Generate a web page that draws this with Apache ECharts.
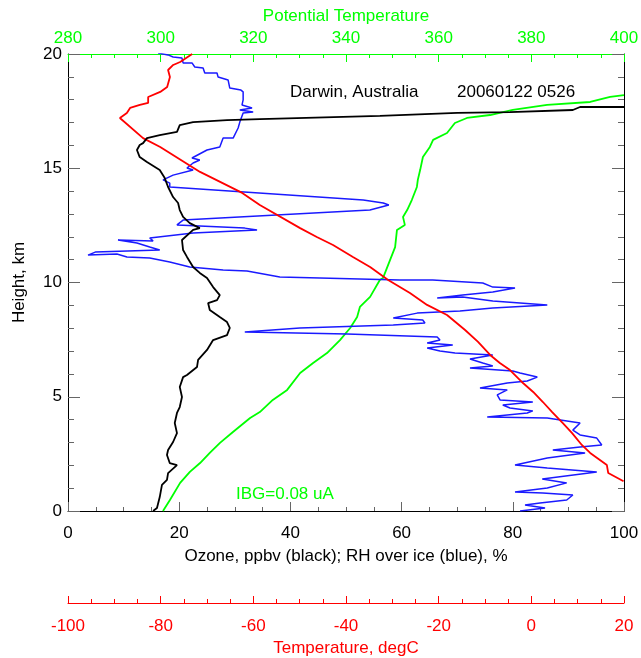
<!DOCTYPE html>
<html>
<head>
<meta charset="utf-8">
<script src="https://cdn.jsdelivr.net/npm/echarts@6/dist/echarts.min.js"></script>
<style>
  html, body { margin: 0; padding: 0; background: #fff; }
  #main { width: 641px; height: 658px; }
</style>
</head>
<body>
<div id="main"></div>
<script>
// tick labels
const ozoneTicks = [0, 20, 40, 60, 80, 100];
const thetaTicks = [280, 300, 320, 340, 360, 380, 400];
const tempTicks = [-100, -80, -60, -40, -20, 0, 20];
const heightTicks = [0, 5, 10, 15, 20];

// ozone, ppbv vs height km
const ozone = [
  [15.3,0],[16.0,0.13],[16.5,0.61],[16.9,1.14],[17.8,1.36],[18.0,1.66],[19.6,2.01],[18.3,2.10],
  [17.8,2.45],[18.0,2.67],[18.9,3.02],[19.6,3.41],[19.2,3.85],[19.6,4.29],[20.1,4.55],[20.5,4.99],
  [20.1,5.43],[20.7,5.86],[21.4,5.95],[23.2,6.30],[23.4,6.61],[25.0,7.05],[26.1,7.48],[28.6,7.70],
  [29.1,8.01],[28.6,8.27],[27.3,8.49],[25.5,8.80],[25.2,9.10],[26.8,9.23],[27.3,9.45],[26.1,9.80],
  [25.0,10.20],[23.7,10.42],[22.5,10.68],[21.4,11.12],[20.7,11.42],[20.5,11.86],[22.5,12.30],[23.7,12.38],
  [21.9,12.60],[20.7,12.87],[20.1,13.17],[19.8,13.48],[18.9,13.74],[18.0,14.18],[17.4,14.57],[16.5,14.92],
  [14.2,15.27],[12.9,15.49],[12.4,15.80],[12.9,16.02],[13.5,16.10],[14.2,16.32],[16.5,16.45],[19.6,16.59],
  [20.1,16.89],[22.5,17.02],[28.6,17.11],[34.5,17.15],[56.1,17.29],[70.0,17.42],[79.5,17.46],[90.8,17.55],
  [92.1,17.68],[100,17.68]
];

// RH over ice, % vs height km
const rhIce = [
  [81.3,0],[85.8,0.13],[82.2,0.26],[84.9,0.35],[89.7,0.48],[90.8,0.70],[85.4,0.79],[80.4,0.83],
  [86.2,1.01],[89.7,1.23],[85.3,1.40],[95.1,1.71],[86.2,1.88],[80.4,2.01],[86.2,2.32],[93.0,2.54],
  [87.2,2.67],[92.1,2.80],[96.0,2.89],[95.1,3.19],[92.1,3.33],[90.8,3.54],[92.1,3.85],[86.2,4.07],
  [75.4,4.11],[82.6,4.29],[83.6,4.38],[79.5,4.51],[78.2,4.64],[83.6,4.77],[77.7,4.86],[77.2,5.08],
  [79.0,5.30],[74.1,5.38],[79.0,5.60],[82.6,5.69],[84.4,5.86],[81.3,6.04],[80.0,6.13],[72.3,6.26],
  [76.4,6.35],[74.6,6.48],[72.3,6.65],[76.4,6.83],[69.6,6.91],[66.9,7.00],[64.6,7.13],[69.2,7.26],
  [64.6,7.35],[66.9,7.48],[66.4,7.61],[50.2,7.75],[31.8,7.83],[41.7,8.01],[58.5,8.14],[64.2,8.23],
  [63.8,8.36],[58.5,8.45],[62.8,8.66],[70.5,8.75],[76.4,8.88],[86.2,9.01],[76.4,9.19],[71.0,9.37],
  [66.4,9.32],[71.0,9.45],[76.4,9.58],[80.4,9.76],[76.4,9.80],[74.6,9.98],[65.6,10.11],[59.7,10.11],
  [38.1,10.24],[32.2,10.50],[27.9,10.55],[21.9,10.68],[18.3,10.90],[14.7,11.07],[10.6,11.12],[8.8,11.25],
  [3.6,11.20],[4.9,11.33],[16.5,11.42],[14.7,11.55],[12.4,11.73],[9.0,11.86],[15.3,11.82],[14.7,11.95],
  [22.5,12.17],[34.0,12.30],[31.8,12.38],[19.6,12.52],[20.7,12.73],[54.3,13.17],[57.7,13.39],[56.7,13.48],
  [53.1,13.61],[18.3,14.18],[18.3,14.35],[17.1,14.49],[18.9,14.70],[22.5,14.92],[21.4,15.01],[22.5,15.23],
  [23.7,15.36],[22.3,15.45],[25.0,15.80],[27.3,15.93],[27.9,16.32],[29.7,16.32],[30.6,16.76],[30.9,17.02],
  [31.5,17.42],[33.3,17.46],[30.9,17.55],[33.1,17.64],[31.3,17.77],[31.5,17.99],[31.5,18.34],[31.1,18.42],
  [29.1,18.51],[28.8,18.86],[27.0,18.99],[26.8,19.17],[24.6,19.17],[24.3,19.39],[22.8,19.43],[22.3,19.61],
  [20.7,19.61],[20.5,19.82],[18.9,19.87],[18.0,19.96],[16.2,20.04]
];

// temperature, degC vs height km
const temperature = [
  [19.9,1.30],[16.6,1.66],[16.3,2.01],[14.2,2.32],[12.7,2.54],[10.9,2.89],[8.8,3.41],[6.8,3.85],
  [4.5,4.33],[2.5,4.77],[0.4,5.21],[-1.8,5.60],[-4.6,6.17],[-6.8,6.48],[-8.9,6.83],[-11.5,7.40],
  [-14.3,7.92],[-18.2,8.58],[-22.5,9.02],[-26.2,9.54],[-30.9,10.11],[-34.8,10.68],[-38.5,11.12],
  [-42.8,11.64],[-46.3,11.99],[-49.9,12.38],[-58.6,13.39],[-62.4,13.92],[-71.5,14.84],[-80.1,15.93],
  [-83.8,16.32],[-88.8,17.20],[-87.3,17.42],[-86.6,17.64],[-84.5,17.77],[-82.7,17.86],[-82.7,18.12],
  [-80.1,18.34],[-78.6,18.56],[-78.0,18.99],[-78.4,19.30],[-77.3,19.52],[-75.8,19.65],[-73.2,20.0]
];

// potential temperature, K vs height km
const theta = [
  [300.5,0],[302.0,0.48],[304.2,1.23],[306.3,1.71],[308.5,2.10],[310.6,2.54],[312.8,2.98],[315.6,3.46],
  [319.3,4.07],[321.4,4.33],[324.2,4.86],[327.3,5.30],[330.1,6.04],[332.9,6.48],[335.9,6.91],[338.7,7.48],
  [340.9,8.01],[342.4,8.49],[343.0,8.93],[345.2,9.37],[347.3,10.11],[348.0,10.20],[349.5,10.98],
  [350.6,11.55],[351.0,12.30],[352.7,12.52],[352.3,12.87],[353.2,13.17],[354.2,13.61],[355.3,14.18],
  [355.5,14.49],[356.0,14.92],[356.6,15.49],[358.1,15.93],[358.8,16.24],[361.8,16.54],[363.5,16.98],
  [366.1,17.20],[371.1,17.33],[376.0,17.55],[383.4,17.77],[392.7,17.90],[397.0,18.12],[400,18.20]
];

const chart = echarts.init(document.getElementById('main'));
const font = 'Liberation Sans, Arial, sans-serif';
const fs = 17;
const green = '#00ff00';
const red = '#ff0000';

function axisBase(min, max, step, color, split) {
  return {
    type: 'value', min: min, max: max, interval: step,
    splitLine: { show: false },
    axisLine: { show: true, onZero: false, lineStyle: { color: color, width: 1 } },
    axisTick: { show: true, inside: true, length: 9, lineStyle: { color: color === '#000' ? '#666' : color } },
    minorTick: { show: true, splitNumber: split, length: 4, lineStyle: { color: color === '#000' ? '#666' : color } },
    axisLabel: { color: color, fontSize: fs, fontFamily: font },
    nameTextStyle: { color: color, fontSize: fs, fontFamily: font }
  };
}

const xOzone = axisBase(ozoneTicks[0], ozoneTicks[ozoneTicks.length - 1], 20, '#000', 4);
Object.assign(xOzone, {
  position: 'bottom', name: 'Ozone, ppbv (black); RH over ice (blue), %',
  nameLocation: 'middle', nameGap: 37
});
xOzone.axisLabel.margin = 14;

const xTheta = axisBase(thetaTicks[0], thetaTicks[thetaTicks.length - 1], 20, green, 4);
Object.assign(xTheta, {
  position: 'top', name: 'Potential Temperature', nameLocation: 'middle', nameGap: 25
});
xTheta.axisTick.length = 8;
xTheta.axisLabel.margin = 7;

const xTemp = axisBase(tempTicks[0], tempTicks[tempTicks.length - 1], 20, red, 4);
Object.assign(xTemp, {
  position: 'bottom', offset: 92, name: 'Temperature, degC', nameLocation: 'middle', nameGap: 37
});
xTemp.axisTick.length = 7;
xTemp.axisLabel.margin = 15;

const yLeft = axisBase(heightTicks[0], heightTicks[heightTicks.length - 1], 5, '#000', 5);
Object.assign(yLeft, {
  position: 'left', name: 'Height, km', nameLocation: 'middle', nameGap: 40
});
yLeft.axisTick.length = 12;
yLeft.minorTick.length = 6;
yLeft.axisLabel.margin = 6;

const yRight = axisBase(heightTicks[0], heightTicks[heightTicks.length - 1], 5, '#000', 5);
yRight.position = 'right';
yRight.axisTick.length = 12;
yRight.minorTick.length = 6;
yRight.axisLabel = { show: false };

function line(data, xIdx, color, width) {
  return {
    type: 'line', data: data, xAxisIndex: xIdx, yAxisIndex: 0,
    showSymbol: false, symbol: 'none', clip: true,
    lineStyle: { color: color, width: width }
  };
}

const option = {
  animation: false,
  backgroundColor: '#fff',
  grid: { left: 68, right: 17, top: 54, bottom: 147, containLabel: false, outerBoundsMode: 'none' },
  xAxis: [xOzone, xTheta, xTemp],
  yAxis: [yLeft, yRight],
  series: [
    line(theta, 1, green, 1.8),
    line(rhIce, 0, '#1a1aff', 1.5),
    line(temperature, 2, red, 1.8),
    line(ozone, 0, '#000', 1.8)
  ],
  graphic: [
    { type: 'text', left: 290, top: 84, style: { text: 'Darwin, Australia', fill: '#000', font: fs + 'px ' + font } },
    { type: 'text', left: 457, top: 84, style: { text: '20060122 0526', fill: '#000', font: fs + 'px ' + font } },
    { type: 'text', left: 236, top: 486, style: { text: 'IBG=0.08 uA', fill: green, font: fs + 'px ' + font } }
  ]
};

chart.setOption(option);
</script>
</body>
</html>
